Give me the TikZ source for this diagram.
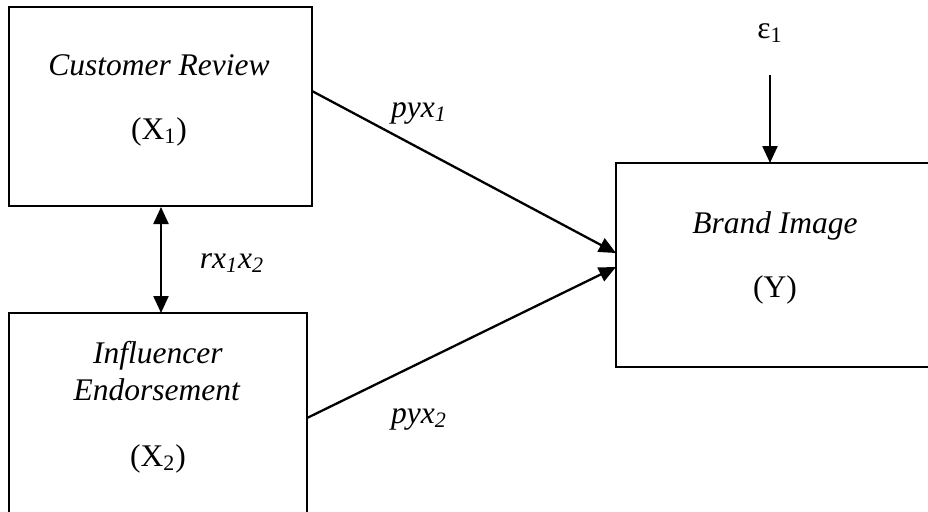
\documentclass[tikz,border=0pt]{standalone}
\usepackage{fontspec}
\setmainfont{Liberation Serif}
\usetikzlibrary{arrows.meta}
\tikzset{
  box/.style={draw, line width=1.4pt, rectangle, inner sep=0pt},
  lbl/.style={anchor=base, inner sep=0pt, font=\fontsize{15.75}{18.5}\selectfont},
  conn/.style={line width=1.15pt, -{Triangle[length=8.5pt,width=7.5pt]}},
  dconn/.style={line width=1.15pt, {Triangle[length=8.5pt,width=7.5pt]}-{Triangle[length=8.5pt,width=7.5pt]}}
}
\begin{document}
\begin{tikzpicture}[x=0.5pt,y=-0.5pt]
\useasboundingbox (0,0) rectangle (928,511);
\clip (0,0) rectangle (928,511);
% boxes
\node[box, minimum width=151.5pt, minimum height=99.5pt] (x1) at (160.5,106.5) {};
\node[box, minimum width=149pt, minimum height=103pt] (x2) at (158,416) {};
\node[box, minimum width=162pt, minimum height=102pt] (y) at (778,265) {};
% texts
\node[lbl] (t1) at (159,75) {\textit{Customer Review}};
\node[lbl] (t1b) at (159,139) {(X\textsubscript{1})};
\node[lbl] (t2) at (158,363) {\textit{Influencer}};
\node[lbl] (t2a) at (157,400) {\textit{Endorsement}};
\node[lbl] (t2b) at (158,466) {(X\textsubscript{2})};
\node[lbl] (t3) at (775,233) {\textit{Brand Image}};
\node[lbl] (t3b) at (775,297) {(Y)};
\node[lbl] (eps) at (770,38) {ε\textsubscript{1}};
\node[lbl] (p1) at (419,117) {\textit{pyx\textsubscript{1}}};
\node[lbl] (p2) at (419,423) {\textit{pyx\textsubscript{2}}};
\node[lbl] (r12) at (232,268) {\textit{rx\textsubscript{1}x\textsubscript{2}}};
% connector ends
\coordinate (s1) at (312,91);
\coordinate (e1) at (616,253);
\coordinate (s2) at (307,418);
\coordinate (e2) at (616,267);
\coordinate (ea) at (770,75);
\coordinate (eb) at (770,163);
\coordinate (da) at (161,207);
\coordinate (db) at (161,313);
% connectors
\draw[conn] (s1) -- (e1);
\draw[conn] (s2) -- (e2);
\draw[conn] (ea) -- (eb);
\draw[dconn] (da) -- (db);
\end{tikzpicture}
\end{document}
